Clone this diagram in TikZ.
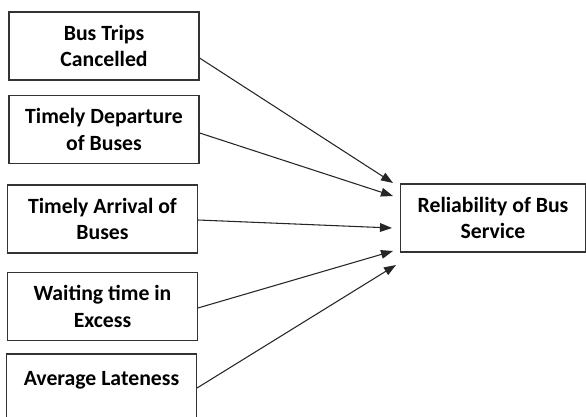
\documentclass[tikz,border=0pt]{standalone}
\usepackage{fontspec}
\setmainfont{Carlito}
\usetikzlibrary{arrows.meta, positioning}

\begin{document}
\begin{tikzpicture}[x=0.75pt, y=-0.75pt,
  factor/.style={draw=black!80, line width=0.8pt, minimum width=142.5pt, minimum height=51pt, inner sep=0pt, align=center, font=\fontsize{16.3}{20}\selectfont\bfseries},
  link/.style={draw=black!85, line width=0.8pt, -{Triangle[length=9pt, width=6.5pt]}}]
\useasboundingbox (0,0) rectangle (586,417);

\node [factor] (trips) at (104,46) {Bus Trips\\Cancelled};
\node [factor] (depart) at (104,129.5) {Timely Departure\\of Buses};
\node [factor] (arrive) at (102.5,219) {Timely Arrival of\\Buses};
\node [factor] (wait) at (102.5,306.5) {Waiting time in\\Excess};
\node [factor, minimum height=57pt] (late) at (101.5,392) {Average Lateness\\\mbox{}};
\node [factor, minimum width=138.75pt] (reliab) at (493,218) {Reliability of Bus\\Service};

\coordinate (e1) at (393,183);
\coordinate (e2) at (393,196);
\coordinate (e3) at (392,228);
\coordinate (e4) at (393,251);
\coordinate (e5) at (396,265);

\draw [link] ([yshift=-9pt]trips.east) -- (e1);
\draw [link] ([yshift=-2.6pt]depart.east) -- (e2);
\draw [link] ([yshift=-0.75pt]arrive.east) -- (e3);
\draw [link] ([yshift=-1.1pt]wait.east) -- (e4);
\draw [link] ([yshift=3pt]late.east) -- (e5);
\end{tikzpicture}
\end{document}
